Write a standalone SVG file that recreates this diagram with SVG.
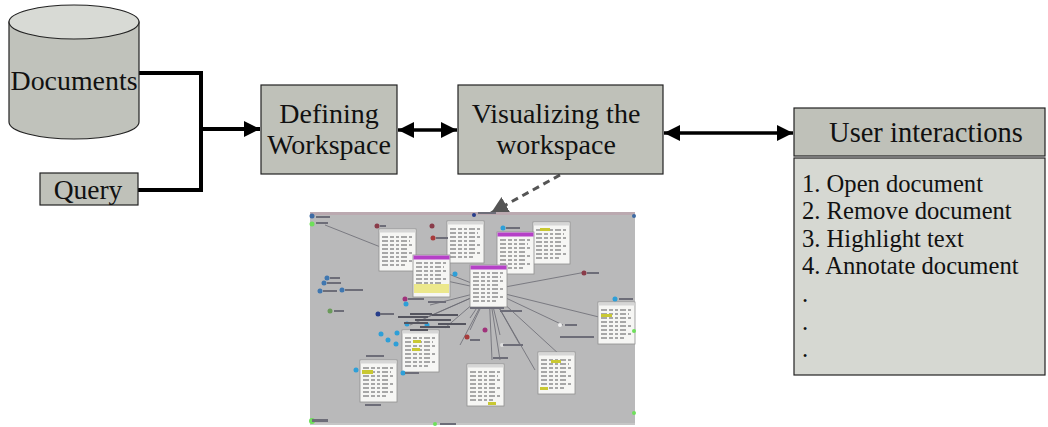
<svg xmlns="http://www.w3.org/2000/svg" width="1048" height="427" viewBox="0 0 1048 427">
  <style>
    .lbl { font-family: "Liberation Serif", "Times New Roman", serif; fill: #111; }
    .box { fill: #bfc1b9; stroke: #222; stroke-width: 1.2; }
    .lite { fill: #d6d8d2; stroke: #222; stroke-width: 1.2; }
    .flow { fill: none; stroke: #000; stroke-width: 4; }
    .pair { fill: none; stroke: #000; stroke-width: 3.5; }
    .panel { fill: #f6f6f4; stroke: #8f8f8f; stroke-width: 0.8; }
    .txt { stroke: #8d8d8d; stroke-width: 1.4; stroke-dasharray: 6 2 4 2 3 2; }
    .edge { stroke: #6a6a72; stroke-width: 0.8; fill: none; }
  </style>
  <defs>
    <marker id="head" markerUnits="userSpaceOnUse" markerWidth="18" markerHeight="18" refX="16" refY="8" orient="auto">
      <path d="M0,0 L16,8 L0,16 Z" fill="#000"/>
    </marker>
    <marker id="tail" markerUnits="userSpaceOnUse" markerWidth="18" markerHeight="18" refX="0" refY="8" orient="auto">
      <path d="M16,0 L0,8 L16,16 Z" fill="#000"/>
    </marker>
    <marker id="grayHead" markerUnits="userSpaceOnUse" markerWidth="20" markerHeight="20" refX="17" refY="9" orient="auto">
      <path d="M0,0 L17,9 L0,18 Z" fill="#555"/>
    </marker>
    <filter id="soft" x="-5%" y="-5%" width="110%" height="110%">
      <feGaussianBlur stdDeviation="0.7"/>
    </filter>
    <g id="doc">
      <rect class="panel" x="0" y="0" width="37" height="42"/>
      <rect x="0.5" y="0.5" width="36" height="3" fill="#d6d6d6"/>
      <line class="txt" x1="3" y1="8" x2="33" y2="8"/>
      <line class="txt" x1="3" y1="12" x2="31" y2="12"/>
      <line class="txt" x1="3" y1="16" x2="33" y2="16"/>
      <line class="txt" x1="3" y1="20" x2="28" y2="20"/>
      <line class="txt" x1="3" y1="24" x2="33" y2="24"/>
      <line class="txt" x1="3" y1="28" x2="30" y2="28"/>
      <line class="txt" x1="3" y1="32" x2="33" y2="32"/>
      <line class="txt" x1="3" y1="36" x2="26" y2="36"/>
    </g>
  </defs>

  <!-- connectors -->
  <g id="connectors">
    <polyline class="flow" points="138,73 201,73 201,190 138,190"/>
    <line class="flow" x1="199" y1="129" x2="260" y2="129" marker-end="url(#head)"/>
    <line class="pair" x1="398" y1="130" x2="457" y2="130" marker-start="url(#tail)" marker-end="url(#head)"/>
    <line class="pair" x1="664" y1="133" x2="793" y2="133" marker-start="url(#tail)" marker-end="url(#head)"/>
    <line x1="560" y1="175" x2="491" y2="213" stroke="#555" stroke-width="3" stroke-dasharray="7 5" marker-end="url(#grayHead)"/>
  </g>

  <!-- Documents store -->
  <g id="documents">
    <path d="M9,22 L9,122 A65,17 0 0 0 139,122 L139,22 Z" fill="#c0c2bb" stroke="#222" stroke-width="1.2"/>
    <ellipse cx="74" cy="22" rx="65" ry="17" fill="#d8dad5" stroke="#222" stroke-width="1.2"/>
    <text class="lbl" x="74" y="90" font-size="28" text-anchor="middle" textLength="127" lengthAdjust="spacingAndGlyphs">Documents</text>
  </g>

  <!-- Query -->
  <g id="query">
    <rect class="box" x="40" y="173" width="98" height="32"/>
    <text class="lbl" x="88" y="199" font-size="27.5" text-anchor="middle">Query</text>
  </g>

  <!-- Defining Workspace -->
  <g id="defining">
    <rect class="box" x="261" y="85" width="136" height="89"/>
    <text class="lbl" x="329" y="123" font-size="28" text-anchor="middle">Defining</text>
    <text class="lbl" x="329" y="154" font-size="28" text-anchor="middle">Workspace</text>
  </g>

  <!-- Visualizing the workspace -->
  <g id="visualizing">
    <rect class="box" x="458" y="85" width="205" height="89"/>
    <text class="lbl" x="556" y="123" font-size="28" text-anchor="middle">Visualizing the</text>
    <text class="lbl" x="556" y="154" font-size="28" text-anchor="middle">workspace</text>
  </g>

  <!-- User interactions -->
  <g id="interactions">
    <rect class="box" x="794" y="108" width="251" height="48"/>
    <text class="lbl" x="926" y="142" font-size="28.5" text-anchor="middle">User interactions</text>
    <rect class="lite" x="794" y="158" width="251" height="217"/>
    <g class="lbl" font-size="24.6">
      <text x="802" y="192">1. Open document</text>
      <text x="802" y="219">2. Remove document</text>
      <text x="802" y="247">3. Highlight text</text>
      <text x="802" y="274">4. Annotate document</text>
      <text x="802" y="302">.</text>
      <text x="802" y="330">.</text>
      <text x="802" y="357">.</text>
    </g>
  </g>

  <!-- workspace view: documents and terms laid out on a canvas -->
  <g id="workspace-view" filter="url(#soft)">
    <rect x="310" y="212" width="325" height="213" fill="#b9b9ba"/>
    <rect x="310" y="212" width="325" height="3" fill="#bba9b0"/>
    <rect x="310" y="423" width="325" height="2" fill="#c6c6c6"/>
    <!-- links -->
    <g class="edge">
      <line x1="489" y1="290" x2="325" y2="225"/>
      <line x1="489" y1="290" x2="586" y2="272"/>
      <line x1="489" y1="290" x2="603" y2="318"/>
      <line x1="489" y1="290" x2="563" y2="325"/>
      <line x1="489" y1="290" x2="560" y2="355"/>
      <line x1="489" y1="290" x2="535" y2="370"/>
      <line x1="489" y1="290" x2="500" y2="360"/>
      <line x1="489" y1="290" x2="492" y2="360"/>
      <line x1="489" y1="290" x2="470" y2="330"/>
      <line x1="489" y1="290" x2="430" y2="305"/>
      <line x1="489" y1="290" x2="425" y2="318"/>
      <line x1="489" y1="290" x2="410" y2="325"/>
      <line x1="489" y1="290" x2="460" y2="345"/>
      <line x1="489" y1="290" x2="442" y2="280"/>
      <line x1="489" y1="290" x2="500" y2="335"/>
      <line x1="489" y1="290" x2="520" y2="345"/>
      <line x1="489" y1="290" x2="445" y2="328"/>
      <line x1="489" y1="290" x2="470" y2="318"/>
    </g>
    <!-- document panels -->
    <use href="#doc" x="379" y="229"/>
    <use href="#doc" x="447" y="221"/>
    <use href="#doc" x="533" y="222"/>
    <use href="#doc" x="497" y="232"/>
    <rect x="497.5" y="232.5" width="36" height="4" fill="#b53fc7"/>
    <use href="#doc" x="413" y="255"/>
    <rect x="413.5" y="255.5" width="36" height="4" fill="#b53fc7"/>
    <rect x="414" y="284" width="35" height="9" fill="#ece88c"/>
    <use href="#doc" x="470" y="265"/>
    <rect x="470.5" y="265.5" width="36" height="4" fill="#b53fc7"/>
    <use href="#doc" x="598" y="302"/>
    <use href="#doc" x="402" y="330"/>
    <use href="#doc" x="360" y="360"/>
    <use href="#doc" x="467" y="364"/>
    <use href="#doc" x="538" y="352"/>
    <!-- highlight tags -->
    <rect x="540" y="228" width="10" height="3" fill="#c9c832"/>
    <rect x="601" y="314" width="11" height="3" fill="#c9c832"/>
    <rect x="413" y="340" width="8" height="3" fill="#c9c832"/>
    <rect x="412" y="348" width="8" height="3" fill="#c9c832"/>
    <rect x="362" y="370" width="11" height="4" fill="#c9c832"/>
    <rect x="551" y="360" width="10" height="3" fill="#c9c832"/>
    <rect x="540" y="387" width="8" height="3" fill="#c9c832"/>
    <rect x="488" y="402" width="8" height="3" fill="#c9c832"/>
    <!-- term nodes -->
    <g>
      <circle cx="327" cy="278" r="2.5" fill="#3f77b0"/>
      <circle cx="324" cy="283" r="2.5" fill="#3f77b0"/>
      <circle cx="320" cy="291" r="2.5" fill="#3f77b0"/>
      <circle cx="342" cy="290" r="2.5" fill="#3f77b0"/>
      <circle cx="330" cy="311" r="2.5" fill="#6a9a5a"/>
      <circle cx="377" cy="226" r="2.5" fill="#8a3a48"/>
      <circle cx="432" cy="226" r="2.5" fill="#8a3a48"/>
      <circle cx="433" cy="238" r="2.5" fill="#a83a3a"/>
      <circle cx="503" cy="228" r="2.5" fill="#2d9fd8"/>
      <circle cx="584" cy="273" r="2.5" fill="#8a3a48"/>
      <circle cx="615" cy="299" r="2.5" fill="#2d9fd8"/>
      <circle cx="455" cy="274" r="2.5" fill="#2d9fd8"/>
      <circle cx="405" cy="299" r="2.5" fill="#a0327a"/>
      <circle cx="406" cy="304" r="2.5" fill="#2d9fd8"/>
      <circle cx="378" cy="314" r="2.5" fill="#263c8a"/>
      <circle cx="407" cy="324" r="2.5" fill="#2d9fd8"/>
      <circle cx="427" cy="325" r="2.5" fill="#2d9fd8"/>
      <circle cx="381" cy="334" r="2.5" fill="#2d9fd8"/>
      <circle cx="388" cy="340" r="2.5" fill="#2d9fd8"/>
      <circle cx="397" cy="333" r="2.5" fill="#2d9fd8"/>
      <circle cx="396" cy="344" r="2.5" fill="#2d9fd8"/>
      <circle cx="485" cy="330" r="2.5" fill="#a0327a"/>
      <circle cx="467" cy="337" r="2.5" fill="#a83a3a"/>
      <circle cx="403" cy="373" r="2.5" fill="#2d9fd8"/>
      <circle cx="356" cy="370" r="2.5" fill="#2d9fd8"/>
      <circle cx="560" cy="325" r="2" fill="#eee"/>
      <circle cx="502" cy="345" r="2" fill="#ddd"/>
      <circle cx="312" cy="216" r="2.5" fill="#3d6aa3"/>
      <circle cx="312" cy="224" r="2.5" fill="#6ee05a"/>
      <circle cx="312" cy="421" r="3" fill="#6ee05a"/>
      <circle cx="634" cy="331" r="2" fill="#6ee05a"/>
      <circle cx="634" cy="413" r="2" fill="#6ee05a"/>
      <circle cx="634" cy="216" r="2" fill="#3d6aa3"/>
      <circle cx="474" cy="215" r="2" fill="#263c8a"/>
      <circle cx="435" cy="424" r="2" fill="#6ee05a"/>
    </g>
    <!-- term labels -->
    <g fill="#6d6d78">
      <rect x="316" y="216" width="14" height="2"/>
      <rect x="316" y="222" width="12" height="2"/>
      <rect x="330" y="277" width="10" height="2"/>
      <rect x="327" y="282" width="14" height="2"/>
      <rect x="345" y="289" width="18" height="2"/>
      <rect x="323" y="290" width="14" height="2"/>
      <rect x="334" y="310" width="10" height="2"/>
      <rect x="380" y="225" width="6" height="2"/>
      <rect x="436" y="237" width="12" height="2"/>
      <rect x="506" y="227" width="14" height="2"/>
      <rect x="587" y="272" width="12" height="2"/>
      <rect x="619" y="298" width="14" height="2"/>
      <rect x="408" y="298" width="16" height="2"/>
      <rect x="428" y="301" width="18" height="2"/>
      <rect x="380" y="313" width="14" height="2"/>
      <rect x="470" y="307" width="34" height="2"/>
      <rect x="500" y="310" width="22" height="2"/>
      <rect x="565" y="324" width="12" height="2"/>
      <rect x="560" y="336" width="34" height="2"/>
      <rect x="470" y="339" width="10" height="2"/>
      <rect x="503" y="344" width="20" height="2"/>
      <rect x="493" y="357" width="15" height="2"/>
      <rect x="366" y="355" width="18" height="2"/>
      <rect x="405" y="372" width="14" height="2"/>
      <rect x="312" y="419" width="16" height="3"/>
      <rect x="440" y="423" width="16" height="2"/>
      <rect x="365" y="404" width="16" height="2"/>
      <rect x="478" y="212" width="18" height="2"/>
    </g>
    <!-- crowded label cluster near the central document -->
    <g fill="#55555e">
      <rect x="410" y="313" width="22" height="2"/>
      <rect x="398" y="316" width="30" height="2"/>
      <rect x="432" y="314" width="26" height="2"/>
      <rect x="415" y="319" width="36" height="2"/>
      <rect x="404" y="322" width="24" height="2"/>
      <rect x="438" y="323" width="28" height="2"/>
      <rect x="420" y="326" width="30" height="2"/>
      <rect x="410" y="329" width="18" height="2"/>
    </g>
  </g>
</svg>
